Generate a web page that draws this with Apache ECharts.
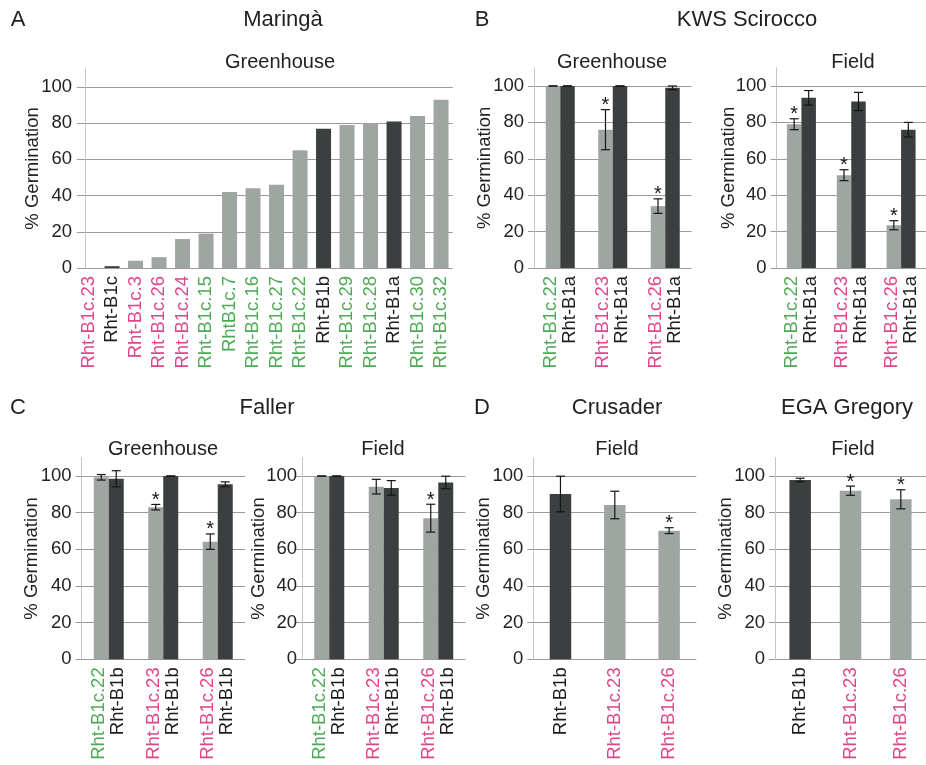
<!DOCTYPE html>
<html><head><meta charset="utf-8">
<script src="https://cdn.jsdelivr.net/npm/echarts@6/dist/echarts.min.js"></script>
<style>html,body{margin:0;padding:0;background:#fff}#c{width:926px;height:765px}</style>
</head><body><div id="c"></div>
<script>
// ---------- DATA ----------
// Panel A: Maringà, Greenhouse
const aCategories = ['Rht-B1c.23','Rht-B1c','Rht-B1c.3','Rht-B1c.26','Rht-B1c.24','Rht-B1c.15','RhtB1c.7','Rht-B1c.16','Rht-B1c.27','Rht-B1c.22','Rht-B1b','Rht-B1c.29','Rht-B1c.28','Rht-B1a','Rht-B1c.30','Rht-B1c.32'];
const aLabelTone = ['p','k','p','p','p','g','g','g','g','g','k','g','g','k','g','g'];
const aBarTone = ['light','dark','light','light','light','light','light','light','light','light','dark','light','light','dark','light','light'];
const aValues = [0, 1, 4, 6, 16, 19, 42, 44, 46, 65, 77, 79, 80, 81, 84, 93];

// Panel B: KWS Scirocco (pairs: mutant line vs Rht-B1a control)
const bLines = ['Rht-B1c.22','Rht-B1c.23','Rht-B1c.26'];
const bLineTone = ['g','p','p'];
const bControl = 'Rht-B1a';
const bGhLine = [100, 76, 34];
const bGhLineErr = [0, 11, 4];
const bGhCtrl = [100, 100, 99];
const bGhCtrlErr = [0, 0, 1];
const bGhSig = [0, 1, 1];
const bFiLine = [79, 51, 23.5];
const bFiLineErr = [3, 3, 2.5];
const bFiCtrl = [93.5, 91.5, 76];
const bFiCtrlErr = [4, 5, 4];
const bFiSig = [1, 1, 1];

// Panel C: Faller (pairs vs Rht-B1b control)
const cLines = ['Rht-B1c.22','Rht-B1c.23','Rht-B1c.26'];
const cLineTone = ['g','p','p'];
const cControl = 'Rht-B1b';
const cGhLine = [99.3, 83, 64.2];
const cGhLineErr = [1.5, 1.5, 4.2];
const cGhCtrl = [98.5, 100, 95.5];
const cGhCtrlErr = [4.4, 0, 1.3];
const cGhSig = [0, 1, 1];
const cFiLine = [100, 94.2, 77];
const cFiLineErr = [0, 4, 7.6];
const cFiCtrl = [100, 93.5, 96.5];
const cFiCtrlErr = [0, 4, 3.4];
const cFiSig = [0, 0, 1];

// Panel D: Crusader & EGA Gregory, Field
const dCategories = ['Rht-B1b','Rht-B1c.23','Rht-B1c.26'];
const dLabelTone = ['k','p','p'];
const dBarTone = ['dark','light','light'];
const dCrusader = [90.2, 84.2, 70.2];
const dCrusaderErr = [9.7, 7.5, 1.6];
const dCrusaderSig = [0, 0, 1];
const dEga = [97.8, 92, 87.3];
const dEgaErr = [1, 2.5, 5.2];
const dEgaSig = [0, 1, 1];

const yTicks = [0, 20, 40, 60, 80, 100];
const yTitle = '% Germination';

// Titles [text, x, y, size]
const titleTexts = [
  ['A', 18, 20, 22], ['Maringà', 283, 20, 22], ['Greenhouse', 280, 62, 20],
  ['B', 482, 20, 22], ['KWS Scirocco', 747, 20, 22], ['Greenhouse', 612, 62, 20], ['Field', 853, 62, 20],
  ['C', 18, 408, 22], ['Faller', 267, 408, 22], ['Greenhouse', 163, 449, 20], ['Field', 383, 449, 20],
  ['D', 482, 408, 22], ['Crusader', 617, 408, 22], ['EGA Gregory', 847, 408, 22], ['Field', 617, 449, 20], ['Field', 853, 449, 20]
];

// ---------- STYLE ----------
const FONT = '"Liberation Sans", Arial, sans-serif';
const PINK = '#e0458a', GREEN = '#4eaa55', BLACK = '#1c1c1c';
const LIGHT = '#9fa6a2', DARK = '#3b3f3f', GRIDC = '#9a9a9a', AXISC = '#c6c6c6';
const LFS = 18.5;
const rich = {
  p: {color: PINK, fontSize: LFS, fontFamily: FONT, lineHeight: 19},
  g: {color: GREEN, fontSize: LFS, fontFamily: FONT, lineHeight: 19},
  k: {color: BLACK, fontSize: LFS, fontFamily: FONT, lineHeight: 19}
};
const toneColor = t => t === 'dark' ? DARK : LIGHT;

const grids = [], xAxes = [], yAxes = [], series = [];

function errRender(offsetPx) {
  return function (params, api) {
    const idx = api.value(0), val = api.value(1), err = api.value(2), sig = api.value(3);
    const top = api.coord([idx, val + err]);
    const bot = api.coord([idx, val - err]);
    const x = top[0] + offsetPx;
    const st = {stroke: '#151515', lineWidth: 1.2};
    const ch = [
      {type: 'line', shape: {x1: x, y1: top[1], x2: x, y2: bot[1]}, style: st},
      {type: 'line', shape: {x1: x - 4.5, y1: top[1], x2: x + 4.5, y2: top[1]}, style: st},
      {type: 'line', shape: {x1: x - 4.5, y1: bot[1], x2: x + 4.5, y2: bot[1]}, style: st}
    ];
    if (sig) ch.push({type: 'text', style: {text: '*', x: x, y: top[1] - 4, fontSize: 20, fontFamily: FONT, fill: '#151515', align: 'center', verticalAlign: 'middle'}});
    return {type: 'group', children: ch};
  };
}

function addAxes(rect, cats, fmt, opts) {
  const gi = grids.length;
  grids.push({left: rect[0], top: rect[1], width: rect[2], height: rect[3]});
  xAxes.push({type: 'category', gridIndex: gi, data: cats,
    axisLine: {show: false}, axisTick: {show: false}, splitLine: {show: false},
    axisLabel: {interval: 0, rotate: 90, margin: 8, formatter: fmt, rich: rich, fontSize: LFS, fontFamily: FONT}});
  yAxes.push({type: 'value', gridIndex: gi, min: 0, max: 110, interval: 20, offset: opts.offset || 0,
    name: yTitle, nameLocation: 'middle', nameGap: opts.nameGap, nameMoveOverlap: false,
    nameTextStyle: {fontSize: 18.5, color: '#222', fontFamily: FONT},
    axisLine: {show: true, lineStyle: {color: AXISC, width: 1}},
    axisTick: {show: opts.tick > 0, length: opts.tick || 0, lineStyle: {color: GRIDC, width: 1}, customValues: yTicks},
    axisLabel: {fontSize: 18.5, color: '#222', fontFamily: FONT, margin: opts.labelMargin, customValues: yTicks},
    splitLine: {show: true, lineStyle: {color: GRIDC, width: 1}}
  });
  return gi;
}

function addPairPanel(rect, lines, tones, ctrl, lv, le, cv, ce, sig, opts) {
  const bw = opts.barWidth;
  const gi = addAxes(rect, lines, (v, i) => `{${tones[i]}|${v}}\n{k|${ctrl}}`, opts);
  series.push({type: 'bar', xAxisIndex: gi, yAxisIndex: gi, data: lv, barWidth: bw, barGap: '0%', itemStyle: {color: LIGHT}});
  series.push({type: 'bar', xAxisIndex: gi, yAxisIndex: gi, data: cv, barWidth: bw, barGap: '0%', itemStyle: {color: DARK}});
  series.push({type: 'custom', xAxisIndex: gi, yAxisIndex: gi, z: 5, clip: false, renderItem: errRender(-bw / 2),
    encode: {x: 0, y: 1}, data: lv.map((v, i) => [i, v, le[i], sig[i]])});
  series.push({type: 'custom', xAxisIndex: gi, yAxisIndex: gi, z: 5, clip: false, renderItem: errRender(bw / 2),
    encode: {x: 0, y: 1}, data: cv.map((v, i) => [i, v, ce[i], 0])});
}

function addSinglePanel(rect, cats, labelTones, barTones, vals, errs, sig, opts) {
  const gi = addAxes(rect, cats, (v, i) => `{${labelTones[i]}|${v}}`, opts);
  series.push({type: 'bar', xAxisIndex: gi, yAxisIndex: gi, barWidth: opts.barWidth,
    data: vals.map((v, i) => ({value: v, itemStyle: {color: toneColor(barTones[i])}}))});
  if (errs) series.push({type: 'custom', xAxisIndex: gi, yAxisIndex: gi, z: 5, clip: false, renderItem: errRender(0),
    encode: {x: 0, y: 1}, data: vals.map((v, i) => [i, v, errs[i], sig[i]])});
}

// A
addSinglePanel([76.8, 68.9, 376, 199.1], aCategories, aLabelTone, aBarTone, aValues, null, null,
  {barWidth: 15, offset: -8.2, nameGap: 43, labelMargin: 13, tick: 0});
// B
addPairPanel([534, 67.8, 157.5, 200.2], bLines, bLineTone, bControl, bGhLine, bGhLineErr, bGhCtrl, bGhCtrlErr, bGhSig,
  {barWidth: 14.5, nameGap: 40, labelMargin: 10, tick: 6});
addPairPanel([776.5, 67.8, 157.5, 200.2], bLines, bLineTone, bControl, bFiLine, bFiLineErr, bFiCtrl, bFiCtrlErr, bFiSig,
  {barWidth: 14.5, nameGap: 38, labelMargin: 10, tick: 6});
// C
addPairPanel([81.5, 457.7, 163.5, 201.6], cLines, cLineTone, cControl, cGhLine, cGhLineErr, cGhCtrl, cGhCtrlErr, cGhSig,
  {barWidth: 15, nameGap: 40, labelMargin: 10, tick: 6});
addPairPanel([302, 457.7, 163.5, 201.6], cLines, cLineTone, cControl, cFiLine, cFiLineErr, cFiCtrl, cFiCtrlErr, cFiSig,
  {barWidth: 15, nameGap: 34, labelMargin: 5, tick: 6});
// D
addSinglePanel([533.3, 457.7, 163, 201.6], dCategories, dLabelTone, dBarTone, dCrusader, dCrusaderErr, dCrusaderSig,
  {barWidth: 21.5, nameGap: 40, labelMargin: 10, tick: 6});
addSinglePanel([775, 457.7, 163.5, 201.6], dCategories, dLabelTone, dBarTone, dEga, dEgaErr, dEgaSig,
  {barWidth: 21.5, nameGap: 40, labelMargin: 10, tick: 6});

const graphics = titleTexts.map(t => ({type: 'text', x: t[1], y: t[2], silent: true,
  style: {text: t[0], fontSize: t[3], fontFamily: FONT, fill: '#222', align: 'center', verticalAlign: 'middle'}}));

const chart = echarts.init(document.getElementById('c'), null, {renderer: 'canvas'});
chart.setOption({
  animation: false,
  backgroundColor: '#fff',
  grid: grids, xAxis: xAxes, yAxis: yAxes, series: series,
  graphic: graphics
});
</script></body></html>
